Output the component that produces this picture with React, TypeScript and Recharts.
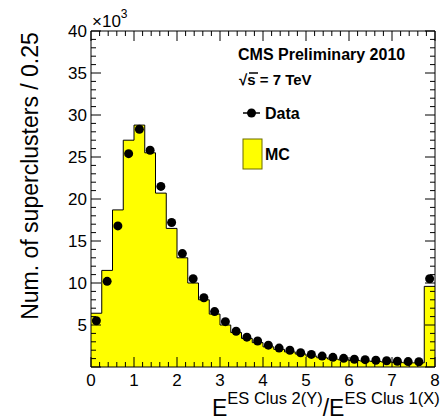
import React from "react";
import { ComposedChart, Area, Scatter, XAxis, YAxis } from "recharts";

// E(ES cluster 2, Y plane) / E(ES cluster 1, X plane), 0.25 wide bins from 0 to 8.
// Counts are in thousands of superclusters per bin; the last bin holds the overflow.
const BIN_WIDTH = 0.25;

const mcCounts = [
  6.4, 11.5, 18.7, 27.0, 28.8, 25.5, 20.7, 16.5,
  13.0, 10.0, 8.0, 6.3, 5.0, 4.1, 3.4, 2.9,
  2.4, 2.1, 1.8, 1.55, 1.3, 1.1, 0.95, 0.85,
  0.78, 0.72, 0.66, 0.6, 0.55, 0.5, 0.5, 9.6,
];

const dataCounts = [
  5.5, 10.2, 16.8, 25.4, 28.3, 25.8, 21.5, 17.2,
  13.5, 10.5, 8.25, 6.6, 5.4, 4.25, 3.55, 3.1,
  2.6, 2.25, 2.0, 1.7, 1.5, 1.3, 1.15, 1.03,
  0.92, 0.87, 0.8, 0.75, 0.68, 0.64, 0.62, 10.5,
];

// ROOT-style axes: 5 divisions between labelled ticks
const xTicks = Array.from({ length: 41 }, (_, i) => i / 5);
const xLabels = [0, 1, 2, 3, 4, 5, 6, 7, 8];
const yTicks = Array.from({ length: 41 }, (_, i) => i);
const yLabels = [5, 10, 15, 20, 25, 30, 35, 40];

// step outline needs a closing point at the upper edge of the last bin
const histData = [...mcCounts, mcCounts[mcCounts.length - 1]].map((mc, i) => ({
  x: i * BIN_WIDTH,
  mc,
}));
const pointData = dataCounts.map((v, i) => ({ x: (i + 0.5) * BIN_WIDTH, data: v }));

const FONT = "'Liberation Sans', Arial, Helvetica, sans-serif";
const MAJOR = 10;
const MINOR = 5;

const isMajorX = (v: number) => Math.abs(v - Math.round(v)) < 1e-6;
const isMajorY = (v: number) => v % 5 === 0;

// axes are 1px thick with zero tick size, so the tick x/y is the axis line itself;
// tick marks point into the frame, labels sit outside
function BottomTick(p: any) {
  const v = p.payload.value;
  const major = isMajorX(v);
  const label = xLabels.find((l) => Math.abs(l - v) < 1e-6);
  return (
    <g>
      <line x1={p.x} x2={p.x} y1={p.y} y2={p.y - (major ? MAJOR : MINOR)} stroke="#000" />
      {label !== undefined && (
        <text x={p.x} y={p.y + 19} textAnchor="middle" fontSize={17} fontFamily={FONT} fill="#000">
          {label}
        </text>
      )}
    </g>
  );
}

function TopTick(p: any) {
  const major = isMajorX(p.payload.value);
  return <line x1={p.x} x2={p.x} y1={p.y} y2={p.y + (major ? MAJOR : MINOR)} stroke="#000" />;
}

function LeftTick(p: any) {
  const v = p.payload.value;
  const major = isMajorY(v);
  return (
    <g>
      <line x1={p.x} x2={p.x + (major ? MAJOR : MINOR)} y1={p.y} y2={p.y} stroke="#000" />
      {yLabels.includes(v) && (
        <text x={p.x - 4} y={p.y + 6} textAnchor="end" fontSize={17} fontFamily={FONT} fill="#000">
          {v}
        </text>
      )}
    </g>
  );
}

function RightTick(p: any) {
  const major = isMajorY(p.payload.value);
  return <line x1={p.x} x2={p.x - (major ? MAJOR : MINOR)} y1={p.y} y2={p.y} stroke="#000" />;
}

export default function App() {
  return (
    <div style={{ position: "absolute", left: 0, top: 0, width: 442, height: 420, background: "#fff" }}>
      <ComposedChart
        width={442}
        height={420}
        data={histData}
        margin={{ top: 30, right: 6, bottom: 52, left: 90 }}
      >
        <Area
          type="stepAfter"
          dataKey="mc"
          xAxisId="bottom"
          yAxisId="left"
          stroke="#000"
          strokeWidth={1}
          fill="#ffff00"
          fillOpacity={1}
          dot={false}
          activeDot={false}
          isAnimationActive={false}
        />
        <Scatter
          data={pointData}
          dataKey="data"
          xAxisId="bottom"
          yAxisId="left"
          isAnimationActive={false}
          shape={(s: any) => <circle cx={s.cx} cy={s.cy} r={4.5} fill="#000" />}
        />
        <XAxis
          xAxisId="bottom"
          dataKey="x"
          type="number"
          domain={[0, 8]}
          ticks={xTicks}
          interval={0}
          height={1}
          tickSize={0}
          tickMargin={0}
          allowDataOverflow
          axisLine={{ stroke: "#000" }}
          tickLine={false}
          tick={(p: any) => <BottomTick {...p} />}
        />
        <XAxis
          xAxisId="top"
          orientation="top"
          dataKey="x"
          type="number"
          domain={[0, 8]}
          ticks={xTicks}
          interval={0}
          height={1}
          tickSize={0}
          tickMargin={0}
          allowDataOverflow
          axisLine={{ stroke: "#000" }}
          tickLine={false}
          tick={(p: any) => <TopTick {...p} />}
        />
        <YAxis
          yAxisId="left"
          type="number"
          domain={[0, 40]}
          ticks={yTicks}
          interval={0}
          width={1}
          tickSize={0}
          tickMargin={0}
          allowDataOverflow
          axisLine={{ stroke: "#000" }}
          tickLine={false}
          tick={(p: any) => <LeftTick {...p} />}
        />
        <YAxis
          yAxisId="right"
          orientation="right"
          type="number"
          domain={[0, 40]}
          ticks={yTicks}
          interval={0}
          width={1}
          tickSize={0}
          tickMargin={0}
          allowDataOverflow
          axisLine={{ stroke: "#000" }}
          tickLine={false}
          tick={(p: any) => <RightTick {...p} />}
        />

        {/* axis titles and legend */}
        <text x={92} y={27} fontSize={17} fontFamily={FONT} fill="#000">
          ×10<tspan dy={-9} fontSize={12}>3</tspan>
        </text>
        <text
          transform="translate(38,176) rotate(-90)"
          textAnchor="middle"
          fontSize={23}
          fontFamily={FONT}
          fill="#000"
        >
          Num. of superclusters / 0.25
        </text>
        <text x={212} y={416} fontSize={23} fontFamily={FONT} fill="#000">
          E<tspan dy={-12} fontSize={16.5}>ES Clus 2(Y)</tspan>
          <tspan dy={12} fontSize={23}>/E</tspan>
          <tspan dy={-12} fontSize={16.5}>ES Clus 1(X)</tspan>
        </text>

        <text x={238} y={60} fontSize={16} fontWeight="bold" fontFamily={FONT} fill="#000">
          CMS Preliminary 2010
        </text>
        <text x={239} y={85} fontSize={15} fontWeight="bold" fontFamily={FONT} fill="#000">
          √s = 7 TeV
        </text>
        <line x1={249} x2={258} y1={73} y2={73} stroke="#000" strokeWidth={1.5} />

        <line x1={243} x2={260} y1={113} y2={113} stroke="#000" strokeWidth={1.5} />
        <circle cx={251.5} cy={113} r={4.5} fill="#000" />
        <text x={265} y={119} fontSize={16} fontWeight="bold" fontFamily={FONT} fill="#000">
          Data
        </text>
        <rect x={243} y={139} width={19} height={30} fill="#ffff00" stroke="#6b6b00" />
        <text x={265} y={160} fontSize={16} fontWeight="bold" fontFamily={FONT} fill="#000">
          MC
        </text>
      </ComposedChart>
    </div>
  );
}
